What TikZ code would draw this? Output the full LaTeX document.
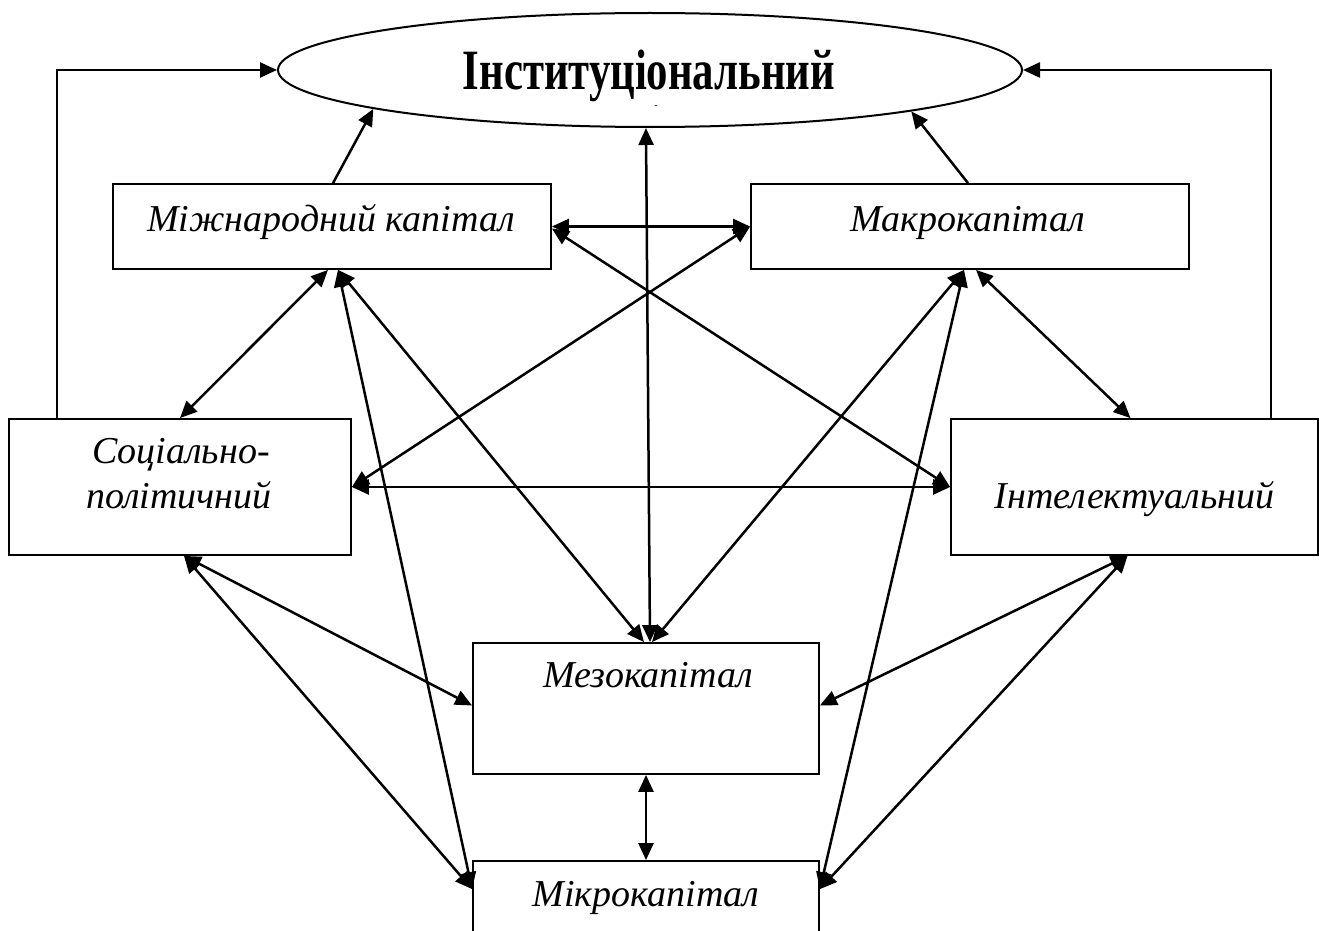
\documentclass[tikz,border=0pt]{standalone}
\usepackage{fontspec}
\setmainfont{Liberation Serif}
\usetikzlibrary{arrows.meta,calc,shapes.geometric}
\begin{document}
\begin{tikzpicture}[x=1pt,y=-1pt,
  box/.style={draw,line width=1.8pt,inner sep=0pt,rectangle},
  lbl/.style={font=\fontsize{38}{44}\selectfont\itshape,inner sep=0pt,anchor=base},
  arr/.style={line width=2.5pt,-{Triangle[length=17pt,width=15pt]}},
  darr/.style={line width=2.5pt,{Triangle[length=17pt,width=15pt]}-{Triangle[length=17pt,width=15pt]}}]
\useasboundingbox (0,0) rectangle (1319,931);
\clip (0,0) rectangle (1319,931);

\node[draw,ellipse,line width=2pt,minimum width=744pt,minimum height=114pt,inner sep=0pt] (inst) at (650,70) {};
\node[font=\fontsize{57}{60}\selectfont\bfseries,inner sep=0pt,anchor=base] (instT) at (649,90) {\raisebox{0pt}[\height][0pt]{\scalebox{0.75}[1]{Інституціональний}}};
\node[font=\fontsize{10}{10}\selectfont,inner sep=0pt] (dash) at (656,107) {-};

\node[box,minimum width=438pt,minimum height=85pt] (mizh) at (332,226.5) {};
\node[box,minimum width=438pt,minimum height=85pt] (makro) at (970,226.5) {};
\node[box,minimum width=342pt,minimum height=136pt] (soc) at (180,487) {};
\node[box,minimum width=367pt,minimum height=136pt] (intel) at (1134.5,487) {};
\node[box,minimum width=346pt,minimum height=131pt] (mezo) at (646,708.5) {};
\node[box,minimum width=346pt,minimum height=131pt] (mikro) at (646,926.5) {};

\node[lbl] (mizhT) at (331,231) {Міжнародний капітал};
\node[lbl] (makroT) at (968,231) {Макрокапітал};
\node[lbl] (socT1) at (181,463) {Соціально-};
\node[lbl] (socT2) at (179,508) {політичний};
\node[lbl] (intelT) at (1134.5,508) {Інтелектуальний};
\node[lbl] (mezoT) at (648,687) {Мезокапітал};
\node[lbl] (mikroT) at (646,906) {Мікрокапітал};

\draw[arr] ($(soc.north west)+(49,0)$) |- (inst.west);
\draw[arr] ($(intel.north east)+(-48,0)$) |- (inst.east);
\draw[arr] ($(mizh.north)+(1,0)$) -- (inst.188.6);
\draw[arr] ($(makro.north)+(-2,0)$) -- (inst.351.4);
\draw[darr] ($(mezo.north)+(4,0)$) -- (inst.266);
\draw[darr] (mizh.east) -- (makro.west);
\draw[darr] ($(mizh.east)+(0,2)$) -- (intel.west);
\draw[darr] (makro.west) -- (soc.east);
\draw[darr] (soc.east) -- (intel.west);
\draw[darr] ($(mizh.south)+(-4,0)$) -- (soc.north);
\draw[darr] ($(mizh.south)+(6,0)$) -- ($(mezo.north)+(-2,0)$);
\draw[darr] ($(mizh.south)+(6,0)$) -- ($(mikro.north west)+(0,29)$);
\draw[darr] ($(makro.south)+(-6,0)$) -- ($(mezo.north)+(6,0)$);
\draw[darr] ($(makro.south)+(-6,0)$) -- ($(mikro.north east)+(0,29)$);
\draw[darr] ($(makro.south)+(6,0)$) -- ($(intel.north)+(-4,0)$);
\draw[darr] ($(soc.south)+(4,0)$) -- ($(mezo.west)+(0,-3)$);
\draw[darr] ($(soc.south)+(4,0)$) -- ($(mikro.north west)+(0,29)$);
\draw[darr] ($(intel.south)+(-7,0)$) -- ($(mezo.east)+(0,-3)$);
\draw[darr] ($(intel.south)+(-7,0)$) -- ($(mikro.north east)+(0,29)$);
\draw[darr] (mezo.south) -- (mikro.north);
\end{tikzpicture}
\end{document}
